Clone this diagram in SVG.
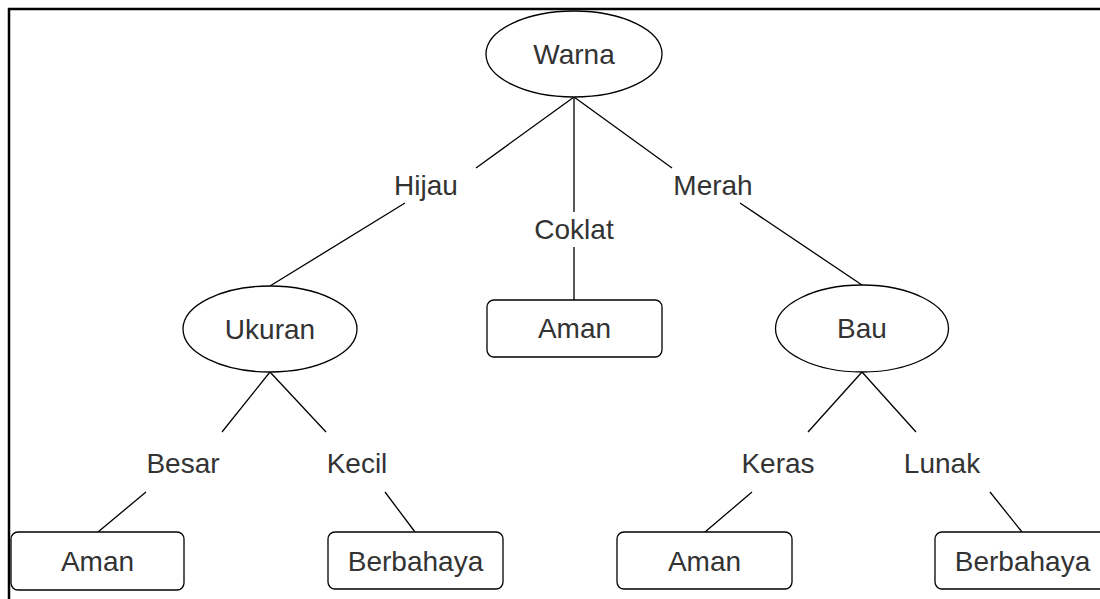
<svg xmlns="http://www.w3.org/2000/svg" width="1100" height="599" viewBox="0 0 1100 599">
<style>
.n{fill:#fff;stroke:#000;stroke-width:1.3}
.t{font-family:"Liberation Sans",Arial,sans-serif;font-size:28px;fill:#333;text-anchor:middle}
.e{stroke:#000;stroke-width:1.3;fill:none}
</style>
<rect x="0" y="0" width="1100" height="599" fill="#fff"/>
<path d="M9,599 V9 H1100" fill="none" stroke="#000" stroke-width="2.5"/>
<g id="connectors">
<path class="e" d="M574,97 L476,168 M405,203 L270,286"/>
<path class="e" d="M574,97 V212 M574,247 V300"/>
<path class="e" d="M574,97 L672,168 M740,203 L862,285"/>
<path class="e" d="M270,372 L222,432 M146,492 L98,532"/>
<path class="e" d="M270,372 L326,432 M385,492 L415,532"/>
<path class="e" d="M862,372 L808,432 M752,492 L705,532"/>
<path class="e" d="M862,372 L916,432 M990,492 L1022,532"/>
<text class="t" x="426" y="195">Hijau</text>
<text class="t" x="574" y="239">Coklat</text>
<text class="t" x="713" y="195">Merah</text>
<text class="t" x="183" y="473">Besar</text>
<text class="t" x="357" y="473">Kecil</text>
<text class="t" x="778" y="473">Keras</text>
<text class="t" x="942" y="473">Lunak</text>
</g>
<g id="warna"><ellipse class="n" cx="574" cy="54" rx="88" ry="43"/><text class="t" x="574" y="64">Warna</text></g>
<g id="ukuran"><ellipse class="n" cx="270" cy="329" rx="87" ry="43"/><text class="t" x="270" y="339">Ukuran</text></g>
<g id="bau"><ellipse class="n" cx="862" cy="328.5" rx="86.5" ry="43.5"/><text class="t" x="862" y="338">Bau</text></g>
<g id="aman-coklat"><rect class="n" x="487" y="300" width="175" height="57" rx="7"/><text class="t" x="574.5" y="338">Aman</text></g>
<g id="aman-besar"><rect class="n" x="11" y="532" width="173" height="58" rx="7"/><text class="t" x="97.5" y="571">Aman</text></g>
<g id="berbahaya-kecil"><rect class="n" x="328" y="532" width="175" height="57" rx="7"/><text class="t" x="415.5" y="571">Berbahaya</text></g>
<g id="aman-keras"><rect class="n" x="617" y="532" width="175" height="57" rx="7"/><text class="t" x="704.5" y="571">Aman</text></g>
<g id="berbahaya-lunak"><rect class="n" x="935" y="532" width="175" height="57" rx="7"/><text class="t" x="1022.5" y="571">Berbahaya</text></g>
</svg>
